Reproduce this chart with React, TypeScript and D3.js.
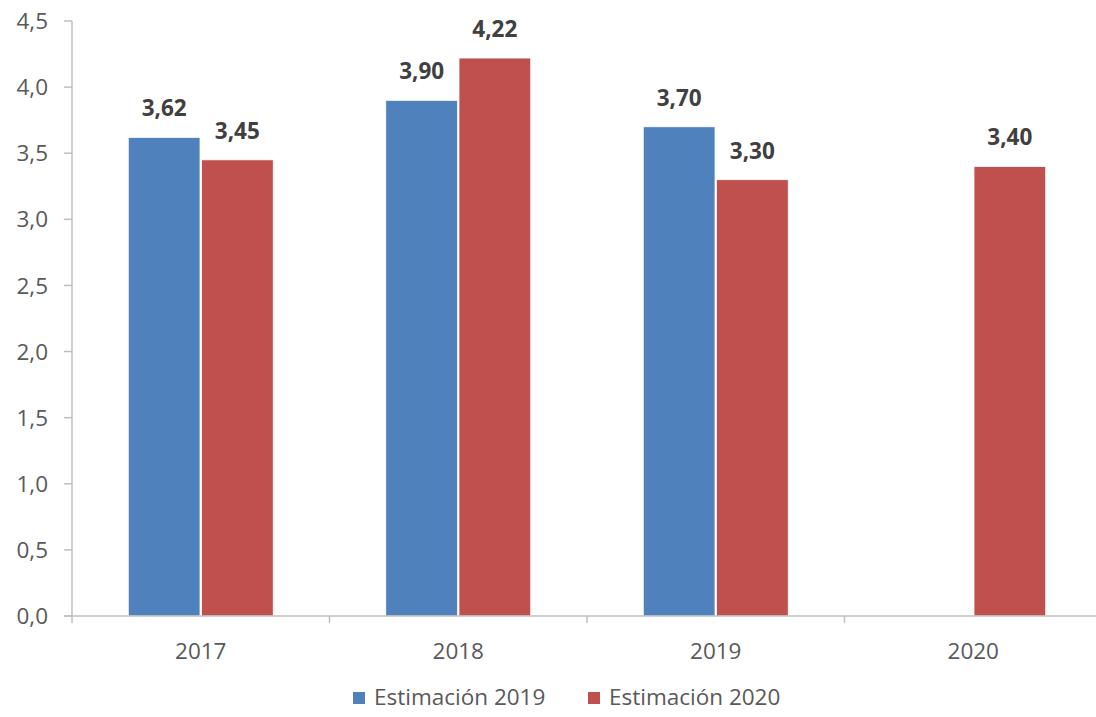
import * as d3 from "d3";

const categories = ["2017", "2018", "2019", "2020"];
const seriesNames = ["Estimación 2019", "Estimación 2020"];
const est2019: (number | null)[] = [3.62, 3.9, 3.7, null];
const est2020: (number | null)[] = [3.45, 4.22, 3.3, 3.4];
const yTicks = [0, 0.5, 1, 1.5, 2, 2.5, 3, 3.5, 4, 4.5];
const colors = ["#4F81BD", "#C0504D"];

const fmt = (v: number, digits: number) => v.toFixed(digits).replace(".", ",");

export default function App() {
  const width = 1096;
  const height = 717;
  const margin = { top: 21, left: 72 };
  const font = "'Open Sans', 'Noto Sans', sans-serif";
  const fs = 22.5;
  const series = [est2019, est2020];

  const xScale = d3
    .scaleBand()
    .domain(categories)
    .range([margin.left, 1102])
    .padding(0);
  const bw = xScale.bandwidth();
  const x1 = d3
    .scaleBand()
    .domain(seriesNames)
    .range([bw * 0.2185, bw * 0.7815])
    .paddingInner(0.02);

  const yScale = d3
    .scaleLinear()
    .domain([0, 4.5])
    .range([616, margin.top]);

  const axisColor = "#BFBFBF";
  const textColor = "#595959";

  return (
    <svg
      width={width}
      height={height}
      style={{ position: "absolute", left: 0, top: 0, background: "white" }}
    >
      {/* y axis */}
      <line x1={72} x2={72} y1={yScale(4.5)} y2={yScale(0)} stroke={axisColor} strokeWidth={1.5} />
      {yTicks.map((t) => (
        <g key={t}>
          <line x1={64} x2={72} y1={yScale(t)} y2={yScale(t)} stroke={axisColor} strokeWidth={1.5} />
          <text
            x={48}
            y={yScale(t)}
            dy="0.36em"
            textAnchor="end"
            fontSize={fs}
            fontFamily={font}
            fill={textColor}
          >
            {fmt(t, 1)}
          </text>
        </g>
      ))}

      {/* bars */}
      {categories.map((c, i) => (
        <g key={c} transform={`translate(${xScale(c)},0)`}>
          {series.map((s, j) => {
            const v = s[i];
            if (v == null) return null;
            const bx = x1(seriesNames[j])!;
            return (
              <g key={j}>
                <rect
                  x={bx}
                  y={yScale(v)}
                  width={x1.bandwidth()}
                  height={yScale(0) - yScale(v)}
                  fill={colors[j]}
                  stroke="#ffffff"
                  strokeWidth={0.8}
                />
                <text
                  x={bx + x1.bandwidth() / 2}
                  y={yScale(v) - 21}
                  textAnchor="middle"
                  fontSize={fs}
                  fontWeight="bold"
                  fontFamily={font}
                  fill="#404040"
                >
                  {fmt(v, 2)}
                </text>
              </g>
            );
          })}
          <text
            x={bw / 2}
            y={659}
            textAnchor="middle"
            fontSize={fs}
            fontFamily={font}
            fill={textColor}
          >
            {c}
          </text>
        </g>
      ))}

      {/* x axis */}
      <line x1={64} x2={1102} y1={yScale(0)} y2={yScale(0)} stroke={axisColor} strokeWidth={1.5} />
      {[...categories.map((c) => xScale(c)!), 1102].map((x, i) => (
        <line key={i} x1={x} x2={x} y1={yScale(0)} y2={623} stroke={axisColor} strokeWidth={1.5} />
      ))}

      {/* legend */}
      {seriesNames.map((name, j) => {
        const lx = j === 0 ? 353 : 588;
        return (
          <g key={name}>
            <rect x={lx} y={692} width={12} height={12} fill={colors[j]} />
            <text
              x={lx + 21}
              y={705}
              fontSize={fs}
              fontFamily={font}
              fill={textColor}
            >
              {name}
            </text>
          </g>
        );
      })}
    </svg>
  );
}
